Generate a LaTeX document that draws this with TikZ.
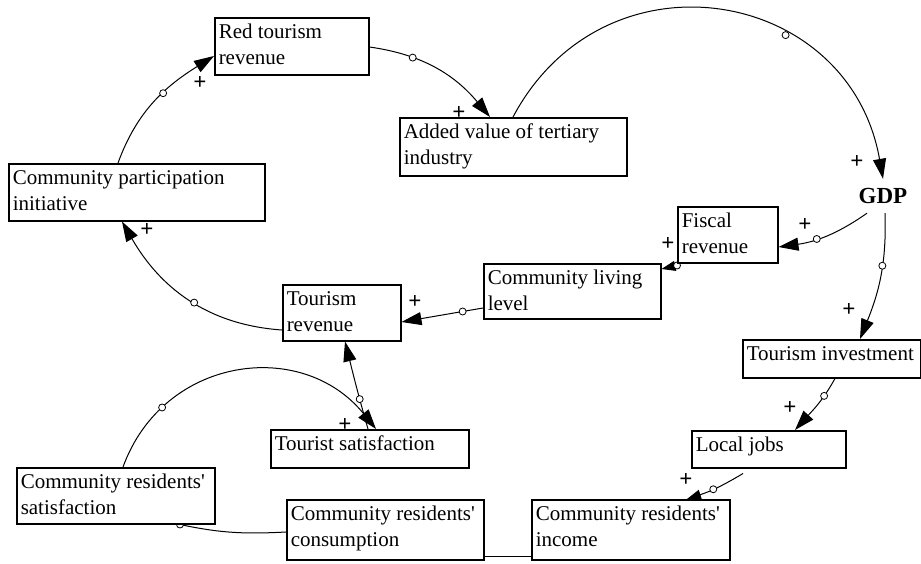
\documentclass[tikz,border=0pt]{standalone}
\usepackage{fontspec}
\setmainfont{Liberation Serif}
\usetikzlibrary{arrows.meta}
\pgfdeclarelayer{bg}\pgfdeclarelayer{conn}\pgfsetlayers{bg,conn,main}
\newcommand{\bxt}[2]{\parbox[t]{#1}{#2}}
\newcommand{\apo}{\textquotesingle}
\tikzset{
 vbox/.style={draw, line width=1.5pt, fill=white, anchor=north west, inner xsep=4pt, inner ysep=0pt,
   text height=20.5pt, font=\fontsize{21}{26.5}\selectfont},
 lnk/.style={line width=1pt},
 arr/.style={lnk, -{Triangle[length=20pt,width=13pt]}},
 arrs/.style={lnk, -{Triangle[length=14pt,width=10pt]}},
 circ/.style={circle, draw, fill=white, line width=0.8pt, inner sep=0pt, minimum size=7pt},
 pl/.style={inner sep=0pt, font=\fontsize{23}{23}\selectfont\bfseries},
}
\begin{document}
\begin{tikzpicture}[x=1pt,y=1pt]
\useasboundingbox (0,0) rectangle (921,-563);
\begin{pgfonlayer}{bg}
\fill[white] (0,0) rectangle (921,-563);
\end{pgfonlayer}

% polarity signs
\node[pl] (p1) at (200,-83) {+};
\node[pl] (p2) at (459,-113) {+};
\node[pl] (p3) at (857,-162) {+};
\node[pl] (p4) at (805,-225) {+};
\node[pl] (p5) at (849,-310) {+};
\node[pl] (p6) at (668,-244) {+};
\node[pl] (p7) at (415,-302) {+};
\node[pl] (p8) at (147,-230) {+};
\node[pl] (p9) at (345,-425) {+};
\node[pl] (p10) at (790,-408) {+};
\node[pl] (p11) at (686,-480) {+};

% variables
\node[vbox, minimum width=154pt, text depth=36.5pt] (rtr) at (214,-17) {\bxt{146pt}{Red tourism\\revenue}};
\node[vbox, minimum width=227pt, text depth=37.5pt] (avt) at (399,-117) {\bxt{219pt}{Added value of tertiary\\industry}};
\node[vbox, minimum width=256pt, text depth=36.5pt] (cpi) at (8,-163) {\bxt{248pt}{Community participation\\initiative}};
\node[font=\fontsize{23}{26}\selectfont\bfseries, inner sep=0pt, minimum width=50pt, minimum height=34pt] (gdp) at (883,-196) {GDP};
\node[vbox, minimum width=100pt, text depth=35.5pt] (fr) at (677,-206) {\bxt{92pt}{Fiscal\\revenue}};
\node[vbox, minimum width=177pt, text depth=34.5pt] (cll) at (483,-263) {\bxt{169pt}{Community living\\level}};
\node[vbox, minimum width=178pt, text depth=17.5pt] (ti) at (742,-339) {\bxt{170pt}{Tourism investment}};
\node[vbox, minimum width=118pt, text depth=35.5pt] (tr) at (282,-284) {\bxt{110pt}{Tourism\\revenue}};
\node[vbox, minimum width=198pt, text depth=17.5pt] (ts) at (270,-429) {\bxt{190pt}{Tourist satisfaction}};
\node[vbox, minimum width=198pt, text depth=35.5pt] (crs) at (16,-467) {\bxt{190pt}{Community residents\apo\\satisfaction}};
\node[vbox, minimum width=197pt, text depth=39.5pt] (crc) at (286,-499) {\bxt{189pt}{Community residents\apo\\consumption}};
\node[vbox, minimum width=154pt, text depth=16.5pt] (lj) at (691,-430) {\bxt{146pt}{Local jobs}};
\node[vbox, minimum width=198pt, text depth=39.5pt] (cri) at (531,-499) {\bxt{190pt}{Community residents\apo\\income}};

% connectors
\begin{pgfonlayer}{conn}
\draw[arr] ([xshift=110pt]cpi.north west) to[out=70,in=212] node[circ,pos=0.58]{} ([yshift=-39pt]rtr.north west);
\draw[arr] ([yshift=-30pt]rtr.north east) to[out=-8,in=130] node[circ,pos=0.3]{} ([xshift=91pt]avt.north west);
\draw[arr] ([xshift=114pt]avt.north west) to[out=62,in=100,looseness=1.33] node[circ,pos=0.65]{} (gdp.north);
\draw[arr] ([xshift=-16pt]gdp.south) to[out=215,in=8] node[circ,pos=0.6]{} ([yshift=-41pt]fr.north east);
\draw[arr] ([xshift=2pt]gdp.south) to[out=-88,in=68] node[circ,pos=0.4]{} ([xshift=118pt]ti.north west);
\draw[arrs] ([yshift=-2pt]fr.south west) -- node[circ,pos=0]{} ([yshift=-6pt]cll.north east);
\draw[arr] ([yshift=-45pt]cll.north west) -- node[circ,pos=0.25]{} ([yshift=-38pt]tr.north east);
\draw[arr] ([yshift=-46pt]tr.north west) to[out=176,in=-60] node[circ,pos=0.46]{} ([xshift=114pt]cpi.south west);
\draw[arr] ([xshift=98pt]ts.north west) to[out=106,in=-76] node[circ,pos=0.33]{} ([xshift=63pt]tr.south west);
\draw[arr] ([xshift=107pt]crs.north west) to[out=70,in=129,looseness=1.18] node[circ,pos=0.22]{} ([xshift=106pt]ts.north west);
\draw[lnk] ([yshift=-33pt]crc.north west) to[out=183,in=-12] ([xshift=164pt]crs.south west) node[circ]{};
\draw[lnk] ([yshift=-57pt]cri.north west) -- ([yshift=-57pt]crc.north east);
\draw[arr] ([xshift=93pt]ti.south west) to[out=-119,in=48] node[circ,pos=0.3]{} ([xshift=104pt]lj.north west);
\draw[arrs] ([xshift=52pt,yshift=-5pt]lj.south west) to[out=211,in=18] node[circ,pos=0.55]{} ([xshift=156pt]cri.north west);
\end{pgfonlayer}
\end{tikzpicture}
\end{document}
